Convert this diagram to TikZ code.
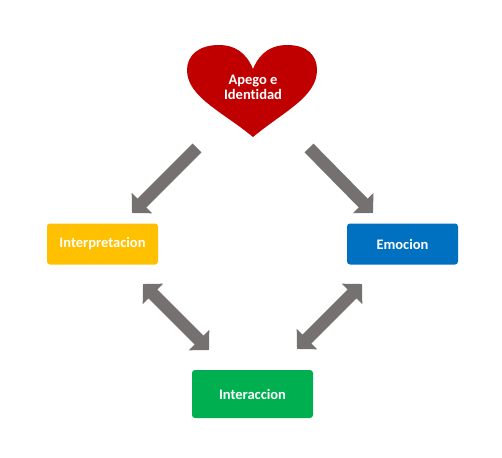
\documentclass[tikz,border=0pt]{standalone}
\usepackage{fontspec}
\setmainfont[Ligatures=NoCommon]{Carlito}
\usetikzlibrary{arrows.meta}
\definecolor{heartred}{HTML}{C00000}
\definecolor{boxyellow}{HTML}{FFC000}
\definecolor{boxblue}{HTML}{0070C0}
\definecolor{boxgreen}{HTML}{00B050}
\definecolor{arrowgray}{HTML}{767171}
\tikzset{
    label text/.style={text=white, font=\fontsize{14.5}{15}\selectfont\bfseries},
    box/.style={label text, rounded corners=3pt, minimum height=41pt, inner sep=0pt},
    link/.style={arrowgray, line width=12.5pt, -{Triangle[length=14pt, width=28pt]}},
    both link/.style={arrowgray, line width=12.5pt, {Triangle[length=14pt, width=28pt]}-{Triangle[length=14pt, width=28pt]}},
}

\begin{document}
\begin{tikzpicture}[x=1pt, y=-1pt]
    \useasboundingbox (0,0) rectangle (502,457);

    % Draw heart
    \fill[heartred] (253,69) .. controls (260,52) and (272,45) .. (287,45)
        .. controls (308,45) and (317,56) .. (317,70)
        .. controls (317,97) and (283,112) .. (253,137)
        .. controls (223,112) and (187,97) .. (187,70)
        .. controls (187,56) and (198,45) .. (219,45)
        .. controls (234,45) and (246,52) .. (253,69) -- cycle;
    \node[label text, align=center] (apego) at (253,87.5) {Apego e\\Identidad};

    % Draw nodes
    \node[box, fill=boxyellow, minimum width=111pt] (interpretacion) at (102.5,244) {Interpretacion};
    \node[box, fill=boxblue, minimum width=111pt] (emocion) at (402.5,244) {Emocion};
    \node[box, fill=boxgreen, minimum width=121pt, minimum height=48pt] (interaccion) at (252.5,394) {Interaccion};

    % Arrow ends
    \coordinate (a1) at (197,148);
    \coordinate (a2) at (132,213);
    \coordinate (b1) at (309,148);
    \coordinate (b2) at (373,213);
    \coordinate (c1) at (143,284);
    \coordinate (c2) at (209,350);
    \coordinate (d1) at (362,284);
    \coordinate (d2) at (297,349);

    % Draw connections
    \draw[link] (a1) -- (a2);
    \draw[link] (b1) -- (b2);
    \draw[both link] (c1) -- (c2);
    \draw[both link] (d1) -- (d2);
\end{tikzpicture}
\end{document}
